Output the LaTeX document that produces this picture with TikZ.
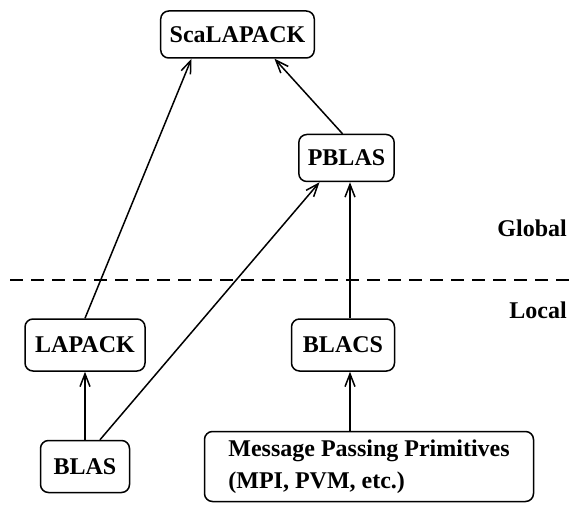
\documentclass[tikz,border=0pt]{standalone}
\usepackage{fontspec}
\setmainfont{Liberation Serif}
\usetikzlibrary{arrows.meta,positioning}

\begin{document}
\begin{tikzpicture}[
  x=1pt, y=1pt,
  node distance=68pt and 145pt,
  block/.style={
    draw=black,
    line width=1.5pt,
    rounded corners=8pt,
    align=center,
    minimum height=52pt,
    inner xsep=9pt,
    font=\fontsize{24}{32}\selectfont\bfseries
  },
  upper/.style={
    block,
    minimum height=47pt
  },
  layer/.style={font=\fontsize{24}{32}\selectfont\bfseries,anchor=east,inner sep=0pt},
  flow/.style={-{Straight Barb[length=4.5mm,width=3.5mm]},line width=1.5pt},
  divider/.style={dash pattern=on 13pt off 8pt,line width=1.5pt}
]
  \useasboundingbox (0,0) rectangle (572,504);

  \node[block, minimum width=120pt] (lapack) at (85,159) {LAPACK};
  \node[block, minimum width=89pt, below=of lapack] (blas) {BLAS};
  \node[block, minimum width=103pt, right=of lapack] (blacs) {BLACS};
  \node[upper, minimum width=95pt, above=136pt of blacs, xshift=3.5pt] (pblas) {PBLAS};
  \node[upper, minimum width=153pt, above=75pt of pblas, xshift=-109pt] (scalapack) {ScaLAPACK};
  \node[block, align=left, minimum width=329pt, minimum height=70pt,
        below=59pt of blacs, xshift=26pt] (msg) {Message Passing Primitives\\(MPI, PVM, etc.)};

  \node[layer] (global) at (567,276) {Global};
  \node[layer] (local) at (567,194) {Local};

  % global / local split
  \coordinate (divl) at (10,224);
  \coordinate (divr) at (572,224);
  \draw[divider] (divl) -- (divr);

  \draw[flow] (blas.north) -- (lapack.south);
  \draw[flow] ([xshift=15pt]blas.north) -- ([xshift=-27pt]pblas.south);
  \draw[flow] (lapack.north) -- ([xshift=-46pt]scalapack.south);
  \draw[flow] ([xshift=-4pt]pblas.north) -- ([xshift=37pt]scalapack.south);
  \draw[flow] ([xshift=7pt]blacs.north) -- ([xshift=7pt]blacs.north |- pblas.south);
  \draw[flow] ([xshift=7pt]blacs.south |- msg.north) -- ([xshift=7pt]blacs.south);
\end{tikzpicture}
\end{document}
